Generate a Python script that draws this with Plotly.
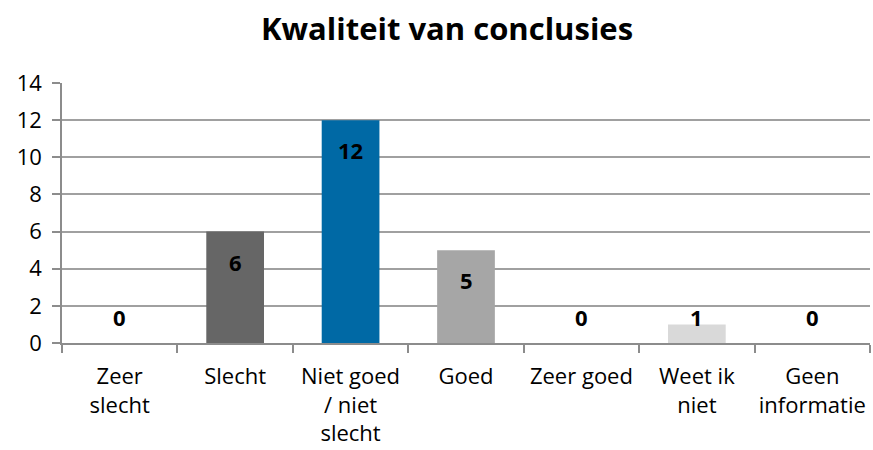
import plotly.graph_objects as go

categories = ["Zeer<br>slecht", "Slecht", "Niet goed<br>/ niet<br>slecht", "Goed", "Zeer goed", "Weet ik<br>niet", "Geen<br>informatie"]
values = [0, 6, 12, 5, 0, 1, 0]
bar_colors = ["#666666", "#666666", "#0069A5", "#A6A6A6", "#A6A6A6", "#D9D9D9", "#D9D9D9"]
y_ticks = [0, 2, 4, 6, 8, 10, 12, 14]

W, H = 873, 450
margin = dict(l=62, r=3, t=83, b=107)
plot_h = H - margin["t"] - margin["b"]
y_max = 14
px_per_unit = plot_h / y_max

FONT = "Open Sans, Calibri, sans-serif"

fig = go.Figure()
fig.add_trace(go.Bar(
    x=categories, y=values,
    marker=dict(color=bar_colors, line=dict(width=0)),
    width=0.5, hoverinfo="skip",
))

for c, v in zip(categories, values):
    shift = max(v * px_per_unit - 30, 26)
    fig.add_annotation(x=c, y=0, xref="x", yref="y", text=str(v), showarrow=False,
                       yanchor="middle", yshift=shift,
                       font=dict(family=FONT, size=22, color="#000000", weight="bold"))

fig.update_layout(
    width=W, height=H, margin=margin,
    paper_bgcolor="white", plot_bgcolor="white",
    showlegend=False,
    title=dict(text="<b>Kwaliteit van conclusies</b>", x=447 / W, xanchor="center",
               y=1 - 29 / H, yanchor="middle", yref="container",
               font=dict(family=FONT, size=31, color="#000000")),
    font=dict(family=FONT, size=22, color="#000000"),
    bargap=0.5,
)
fig.update_xaxes(
    type="category", tickson="boundaries", ticks="outside", ticklen=8, tickwidth=1.5,
    tickcolor="#8C8C8C", showline=True, linecolor="#8C8C8C", linewidth=1.5,
    showgrid=False, tickfont=dict(family=FONT, size=22, color="#000000"),
    tickangle=0, automargin=False, ticklabelstandoff=13,
)
fig.update_yaxes(
    range=[0, y_max], tickvals=y_ticks, ticks="outside", ticklen=8, tickwidth=1.5,
    tickcolor="#8C8C8C", showline=True, linecolor="#8C8C8C", linewidth=1.5,
    showgrid=True, gridcolor="#A0A0A0", gridwidth=1.5, zeroline=False,
    tickfont=dict(family=FONT, size=22, color="#000000"), ticklabelstandoff=6,
    automargin=False,
)

fig.write_html("out.html", config={"displayModeBar": False},
               post_script="document.body.style.margin='0px';")
